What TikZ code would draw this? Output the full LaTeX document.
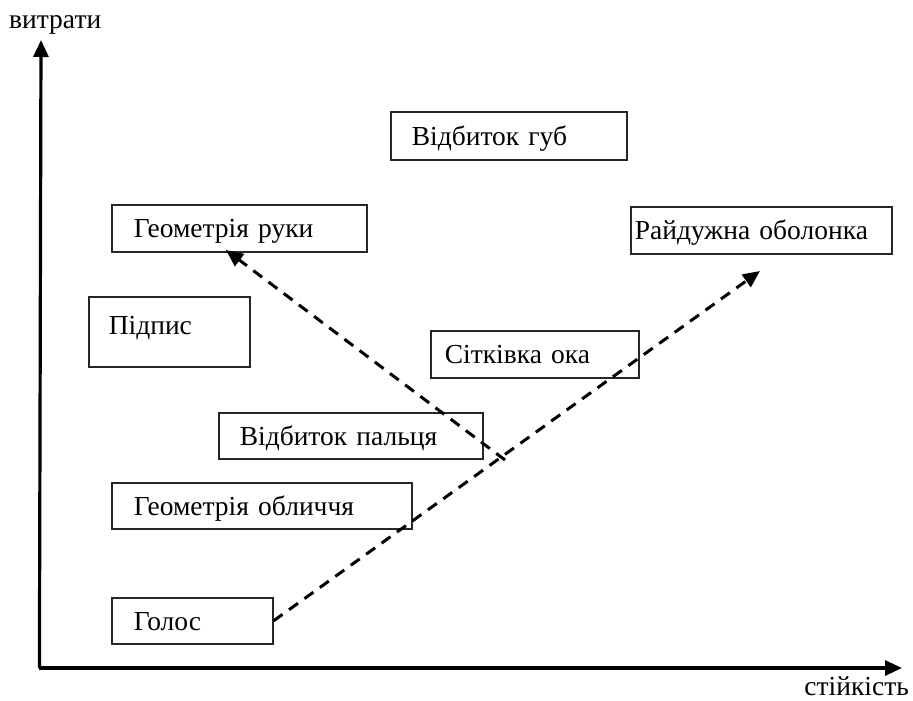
\documentclass[tikz,border=0pt]{standalone}
\usepackage{fontspec}
\setmainfont{Liberation Serif}
\usetikzlibrary{arrows.meta}
\begin{document}
\begin{tikzpicture}[x=1pt,y=-1pt,
  box/.style={draw=black!85, line width=1.6pt, anchor=north west, inner ysep=0pt, align=left,
              text height=19pt, text depth=0pt,
              font=\fontsize{27.5}{30}\selectfont},
  axis/.style={line width=3.2pt, -{Triangle[length=17pt,width=15pt]}},
  dasharrow/.style={line width=3pt, dash pattern=on 11pt off 8pt, -{Triangle[length=17pt,width=15pt]}},
  lbl/.style={font=\fontsize{27.5}{30}\selectfont, inner sep=0pt}]
\useasboundingbox (0,0) rectangle (913,701);
% boxes: text width = width - 2*inner xsep
\node[box, minimum width=236pt, minimum height=48pt, text width=194pt, inner xsep=21pt] (lips) at (390,111) {Відбиток губ};
\node[box, minimum width=255pt, minimum height=47pt, text width=211pt, inner xsep=22pt] (hand) at (111,204) {Геометрія руки};
\node[box, minimum width=261pt, minimum height=47pt, text width=253pt, inner xsep=4pt] (iris) at (630,206) {Райдужна оболонка};
\node[box, minimum width=161pt, minimum height=70pt, text width=121pt, inner xsep=20pt, text depth=13pt] (sign) at (88,296) {Підпис};
\node[box, minimum width=208pt, minimum height=47pt, text width=180pt, inner xsep=14pt] (retina) at (430,330) {Сітківка ока};
\node[box, minimum width=264pt, minimum height=46pt, text width=222pt, inner xsep=21pt] (finger) at (218,412) {Відбиток пальця};
\node[box, minimum width=300pt, minimum height=46pt, text width=256pt, inner xsep=22pt] (face) at (111,482) {Геометрія обличчя};
\node[box, minimum width=161pt, minimum height=46pt, text width=117pt, inner xsep=22pt] (voice) at (111,597) {Голос};
% axes
\coordinate (origin) at (41,668);
\coordinate (ytip) at (41,40);
\coordinate (xtip) at (902,668);
\draw[axis] ([xshift=-1.6pt]origin) -- (ytip);
\draw[axis] ([xshift=-1.6pt]origin) -- (xtip);
\node[lbl, anchor=base west] (ylab) at (9,29) {витрати};
\node[lbl, anchor=base east] (xlab) at (909,695) {стійкість};
% dashed arrows
\coordinate (astart) at (505,460);
\coordinate (atip) at (226,250);
\coordinate (btip) at (760,271);
\draw[dasharrow] (astart) -- (atip);
\draw[dasharrow] (voice.east) -- (btip);
\end{tikzpicture}
\end{document}
